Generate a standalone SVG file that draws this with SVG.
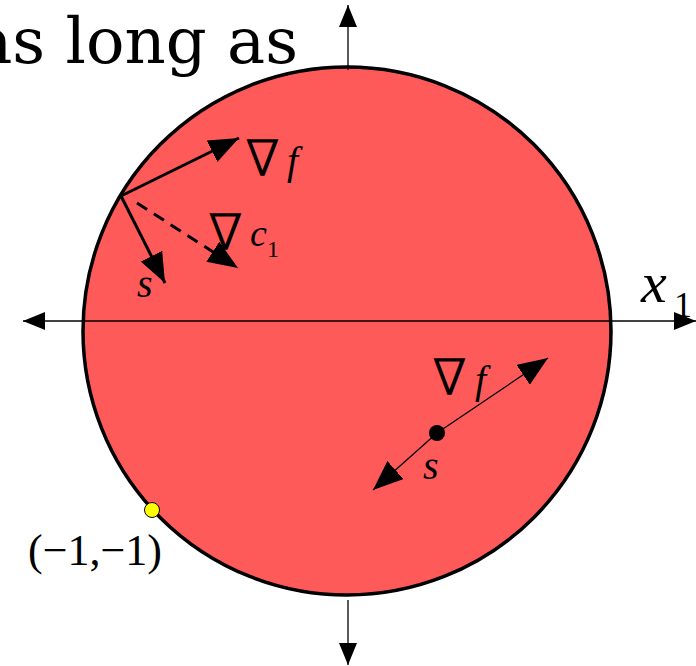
<svg xmlns="http://www.w3.org/2000/svg" width="696" height="666" viewBox="0 0 696 666">
<style>
.math{font-family:"Liberation Serif","Times New Roman",serif;fill:#000}
.nab{font-family:"DejaVu Sans",sans-serif;font-weight:200;fill:#000;stroke:#000;stroke-width:1.4;font-size:48px}
.it{font-style:italic}
.ax{stroke:#000;stroke-width:1.3;fill:none}
.vec{stroke:#000;stroke-width:3;fill:none}
</style>
<defs>
<marker id="axh" viewBox="0 0 10 10" refX="10" refY="5" markerWidth="22" markerHeight="18" markerUnits="userSpaceOnUse" orient="auto" preserveAspectRatio="none"><path d="M0,0 L10,5 L0,10 Z" fill="#000"/></marker>
<marker id="vh" viewBox="0 0 10 10" refX="10" refY="5" markerWidth="30" markerHeight="24" markerUnits="userSpaceOnUse" orient="auto" preserveAspectRatio="none"><path d="M0,0 L10,5 L0,10 Z" fill="#000"/></marker>
</defs>
<text x="298" y="63" font-family="DejaVu Serif,serif" font-size="64" text-anchor="end">as long as</text>
<g id="disk"><circle cx="347" cy="331" r="264" fill="#ff5a5a" stroke="#000" stroke-width="3.5"/></g>
<g id="connectors">
<line class="ax" x1="348" y1="600" x2="348" y2="665" marker-end="url(#axh)"/>
<line class="ax" x1="348" y1="70" x2="348" y2="5" marker-end="url(#axh)"/>
<line class="ax" x1="348" y1="321" x2="696" y2="321" marker-end="url(#axh)"/>
<line class="ax" x1="348" y1="321" x2="23" y2="321" marker-end="url(#axh)"/>
<line class="vec" x1="121" y1="196" x2="239" y2="138" marker-end="url(#vh)"/>
<line class="vec" x1="121" y1="196" x2="165" y2="283" marker-end="url(#vh)"/>
<line class="vec" x1="137" y1="203" x2="238" y2="268" stroke-dasharray="12,8" marker-end="url(#vh)"/>
<line class="ax" x1="437" y1="433" x2="548" y2="358" marker-end="url(#vh)"/>
<line class="ax" x1="437" y1="433" x2="373" y2="490" marker-end="url(#vh)"/>
</g>
<g id="point-interior"><circle cx="437" cy="433" r="8" fill="#000"/></g>
<g id="point-corner"><circle cx="152" cy="510" r="7.5" fill="#ffff00" stroke="#000" stroke-width="1"/></g>
<g id="labels">
<text class="nab" x="246" y="175">∇</text>
<text class="math it" x="287" y="174" font-size="40">f</text>
<text class="nab" x="209" y="249">∇</text>
<text class="math it" x="250" y="246" font-size="38">c</text>
<text class="math" x="267" y="257" font-size="24">1</text>
<text class="math it" x="137" y="297" font-size="40">s</text>
<text class="nab" x="433" y="394">∇</text>
<text class="math it" x="475" y="393" font-size="40">f</text>
<text class="math it" x="423" y="479" font-size="40">s</text>
<text class="math" x="28" y="565" font-size="44">(−1,−1)</text>
<text class="math it" x="641" y="302" font-size="58">x</text>
<text class="math" x="674" y="317" font-size="36">1</text>
</g>
</svg>
